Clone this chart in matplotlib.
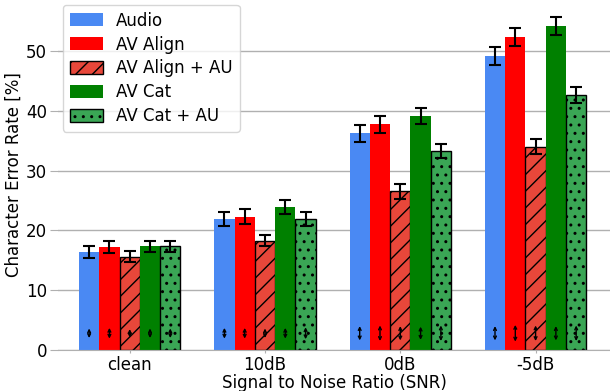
import matplotlib
matplotlib.use("Agg")
import matplotlib.pyplot as plt
import numpy as np

categories = ["clean", "10dB", "0dB", "-5dB"]
series_names = ["Audio", "AV Align", "AV Align + AU", "AV Cat", "AV Cat + AU"]
audio = [16.4, 21.9, 36.2, 49.1]
av_align = [17.2, 22.3, 37.7, 52.3]
av_align_au = [15.6, 18.3, 26.5, 34.0]
av_cat = [17.3, 23.9, 39.1, 54.2]
av_cat_au = [17.3, 21.9, 33.3, 42.6]
err_audio = [1.0, 1.1, 1.4, 1.5]
err_align = [1.0, 1.2, 1.4, 1.5]
err_align_au = [0.9, 1.0, 1.3, 1.3]
err_cat = [1.0, 1.2, 1.4, 1.5]
err_cat_au = [1.0, 1.1, 1.2, 1.3]
spread_audio = [0.8, 0.9, 1.2, 1.2]
spread_align = [0.9, 0.9, 1.3, 1.4]
spread_align_au = [0.7, 0.8, 1.2, 1.3]
spread_cat = [0.8, 0.9, 1.1, 1.2]
spread_cat_au = [0.8, 1.0, 1.3, 1.3]

values = [audio, av_align, av_align_au, av_cat, av_cat_au]
errs = [err_audio, err_align, err_align_au, err_cat, err_cat_au]
spreads = [spread_audio, spread_align, spread_align_au, spread_cat, spread_cat_au]
colors = ["#4a89f3", "#ff0000", "#e8473a", "#008000", "#3aa655"]
hatches = [None, None, "//", None, ".."]
edges = [None, None, "black", None, "black"]

plt.rcParams['hatch.linewidth'] = 1.0
fig = plt.figure(figsize=(6.1, 3.91), dpi=100)
ax = fig.add_axes([58/610, 1-350/391, 1-58/610, 350/391])

x = np.arange(len(categories))
w = 0.15
for i, (vals, e, sp) in enumerate(zip(values, errs, spreads)):
    pos = x + (i - 2) * w
    kw = {}
    if edges[i]:
        kw = dict(edgecolor="black", linewidth=1.0, hatch=hatches[i])
    ax.bar(pos, vals, w, color=colors[i], label=series_names[i], zorder=2, **kw)
    ax.errorbar(pos, vals, yerr=e, fmt="none", ecolor="black", capsize=4.5,
                elinewidth=1.5, capthick=1.5, zorder=3)
    for p, s in zip(pos, sp):
        ax.annotate("", xy=(p, 2.8 + s), xytext=(p, 2.8 - s),
                    arrowprops=dict(arrowstyle="<->", color="black", lw=1.0,
                                    mutation_scale=5, shrinkA=0, shrinkB=0),
                    zorder=4)

ax.set_xlim(-0.53, 3.55)
ax.set_ylim(0, 58.5)
ax.set_xticks(x)
ax.set_xticklabels(categories, fontsize=12)
ax.set_yticks([0, 10, 20, 30, 40, 50])
ax.tick_params(axis="y", labelsize=12, length=6, color="#b0b0b0", pad=2)
ax.tick_params(axis="x", length=2, color="#b0b0b0", pad=2)
ax.yaxis.grid(True, color="#b0b0b0", linewidth=1.0, zorder=0)
ax.set_axisbelow(True)
for s in ["top", "right", "left"]:
    ax.spines[s].set_visible(False)
ax.spines["bottom"].set_color("#b0b0b0")
ax.set_ylabel("Character Error Rate [%]", fontsize=12, labelpad=2)
ax.set_xlabel("Signal to Noise Ratio (SNR)", fontsize=12, labelpad=0)
ax.legend(loc="upper left", fontsize=12, handlelength=2.0, handleheight=0.8,
          labelspacing=0.35, borderaxespad=0.3, framealpha=0.8)

fig.savefig("out.png", dpi=100)
